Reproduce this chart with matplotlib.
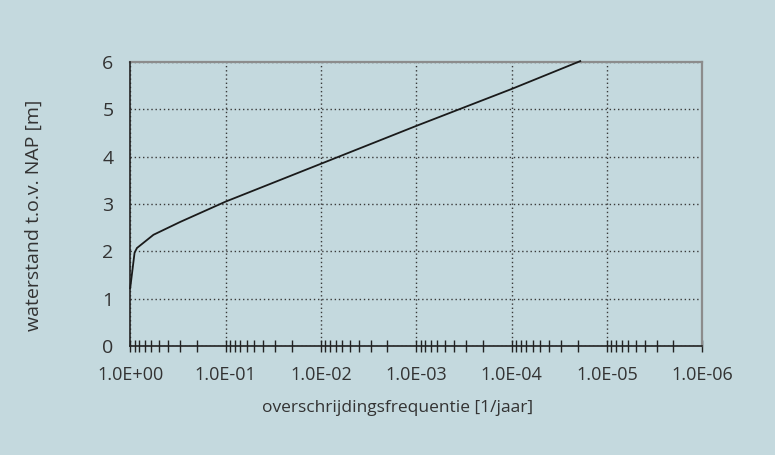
import matplotlib
matplotlib.use("Agg")
import matplotlib.pyplot as plt
import matplotlib.ticker as ticker

# curve
freq = [1.0, 0.90, 0.85, 0.57, 0.30, 0.10, 1e-2, 1e-3, 1e-4, 1.9e-5]
level = [1.22, 1.97, 2.07, 2.35, 2.62, 3.05, 3.85, 4.65, 5.43, 6.02]

decades = [1e0, 1e-1, 1e-2, 1e-3, 1e-4, 1e-5, 1e-6]
yticks = [0, 1, 2, 3, 4, 5, 6]

bg = "#c4d9de"
txt = "#333333"
plt.rcParams["font.family"] = ["Open Sans", "DejaVu Sans"]

fig = plt.figure(figsize=(7.75, 4.55), dpi=100, facecolor=bg)
ax = fig.add_axes([0.168, 0.2396, 0.738, 0.624], facecolor=bg)

ax.plot(freq, level, color="#1a1a1a", linewidth=1.3, clip_on=False, zorder=4)

ax.set_xscale("log")
ax.set_xlim(1e0, 1e-6)
ax.set_ylim(0, 6)
ax.set_xticks(decades)
ax.xaxis.set_minor_locator(ticker.LogLocator(base=10, subs=range(2, 10), numticks=20))
ax.xaxis.set_minor_formatter(ticker.NullFormatter())
ax.xaxis.set_major_formatter(ticker.FuncFormatter(lambda v, p: "%.1E" % v))
ax.set_yticks(yticks)

ax.grid(which="major", color="#3a3a3a", linestyle=(0, (1, 2)), linewidth=1.0)
ax.tick_params(axis="x", which="both", direction="inout", length=9, width=1.0,
               color="#222222", labelsize=13, labelcolor=txt, pad=10)
ax.tick_params(axis="y", length=0, labelsize=14, labelcolor=txt, pad=12)

for side in ["left", "bottom"]:
    ax.spines[side].set_color("#222222")
    ax.spines[side].set_linewidth(1.2)
    ax.spines[side].set_zorder(3)
for side in ["top", "right"]:
    ax.spines[side].set_color("#8c8c8c")
    ax.spines[side].set_linewidth(1.6)

ax.set_xlabel("overschrijdingsfrequentie [1/jaar]", fontsize=12.5, color=txt)
ax.xaxis.set_label_coords(0.468, -0.19)
ax.set_ylabel("waterstand t.o.v. NAP [m]", fontsize=14, color=txt)
ax.yaxis.set_label_coords(-0.153, 0.46)

fig.savefig("out.png", dpi=100, facecolor=bg)
